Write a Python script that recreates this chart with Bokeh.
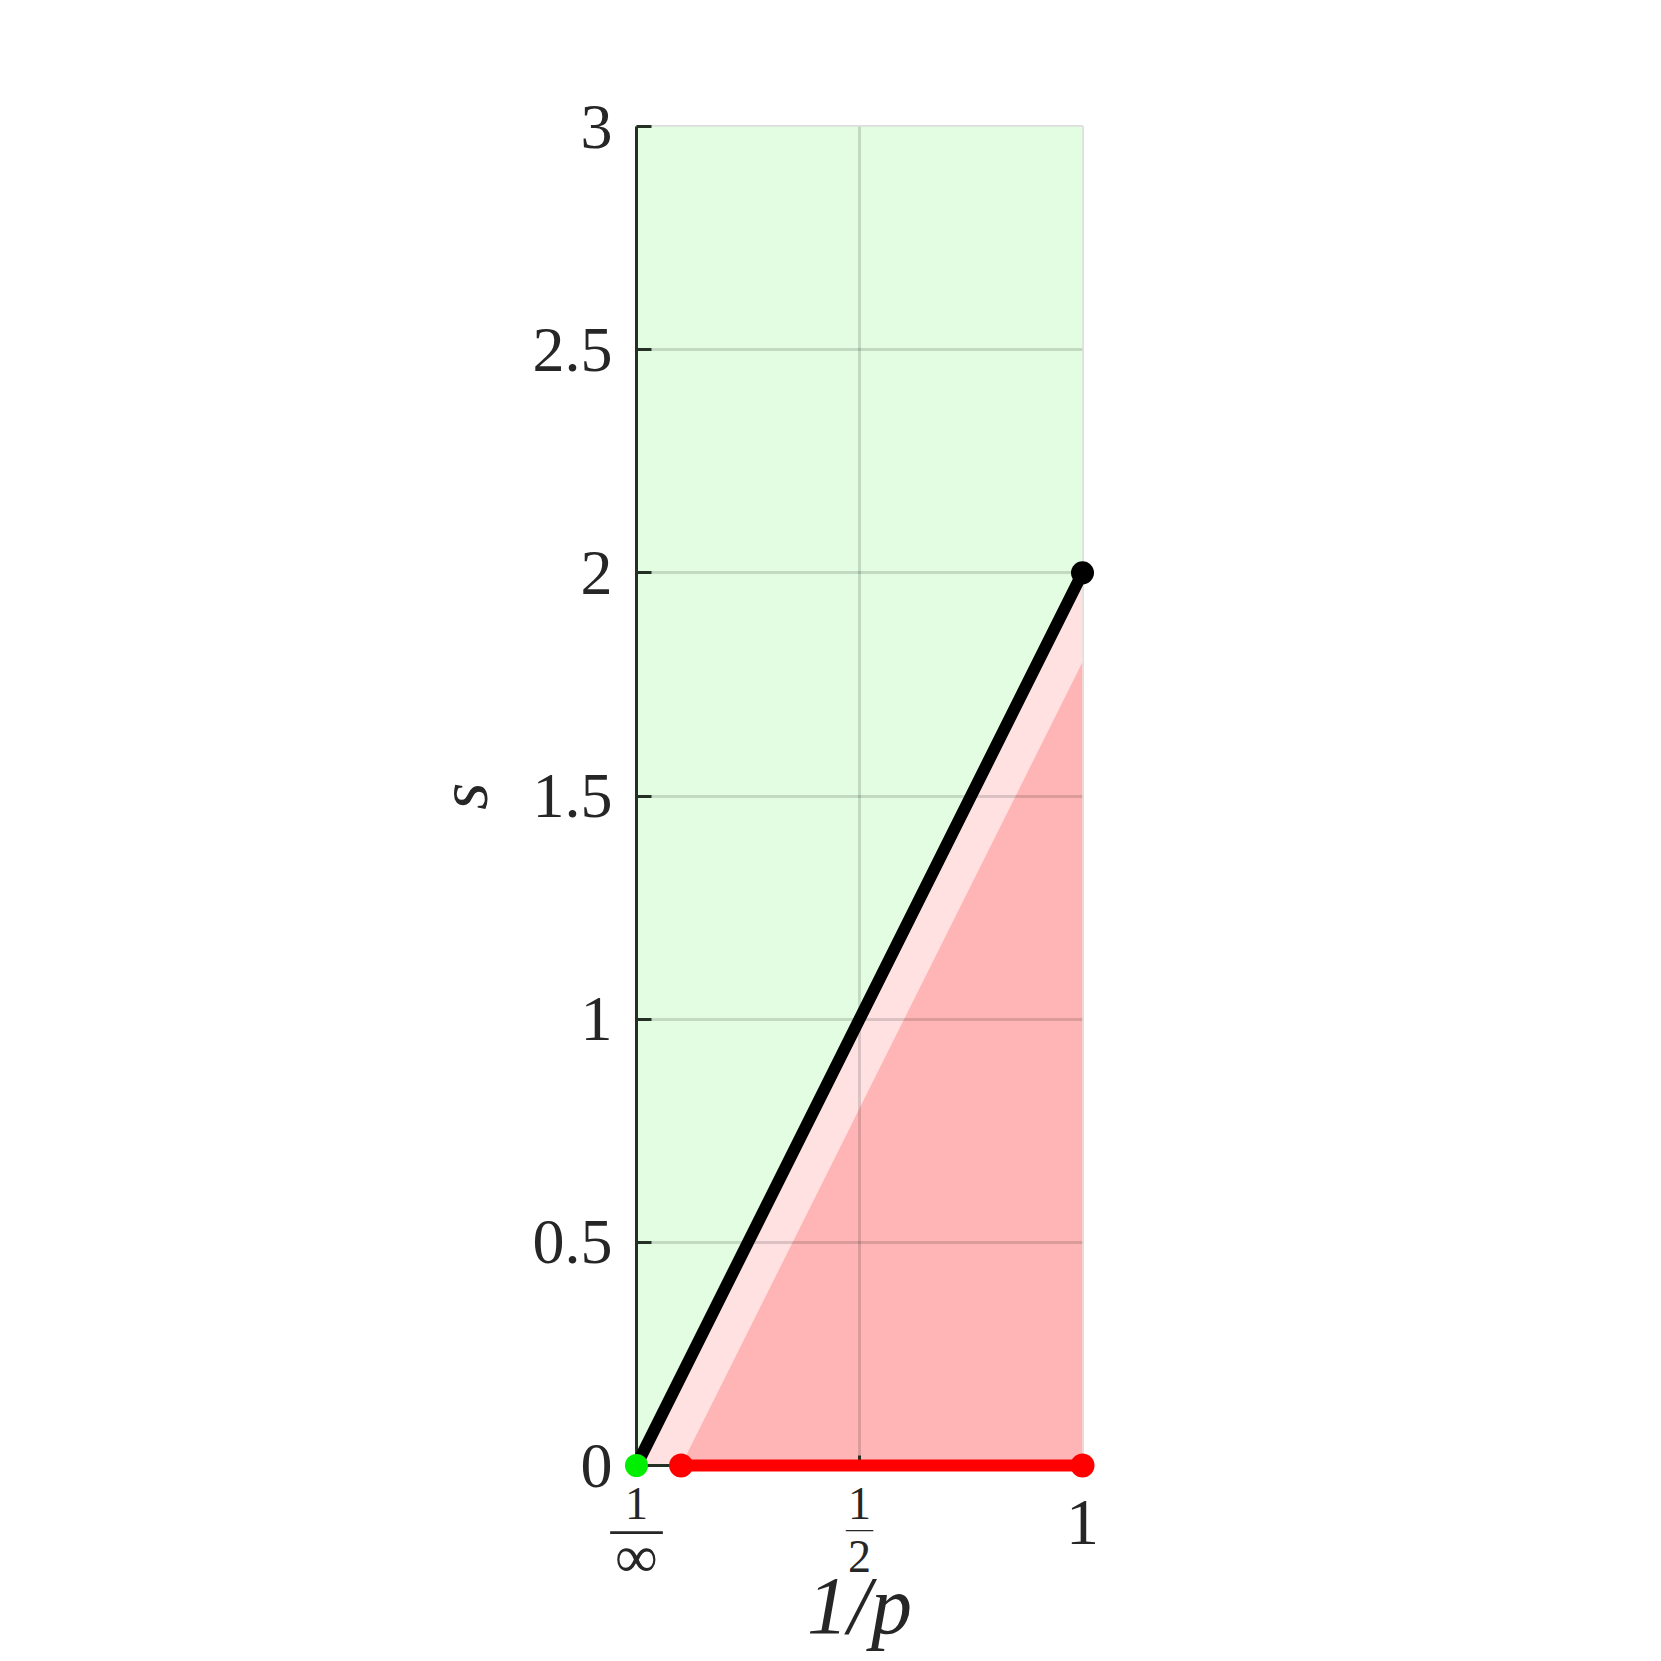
from bokeh.plotting import figure
from bokeh.models import FixedTicker, ColumnDataSource, Range1d
from bokeh.embed import file_html
from bokeh.resources import INLINE
from bokeh.core.properties import value

# ---- data ----
x_ticks = [0, 0.5, 1]
y_ticks = [0, 0.5, 1, 1.5, 2, 2.5, 3]
y_tick_labels = ["0", "0.5", "1", "1.5", "2", "2.5", "3"]

# fraction tick labels on the x axis
frac_x = [0, 0.5]
frac_num = ["1", "1"]
frac_den = ["\u221e", "2"]
frac_den_size = ["60px", "46px"]
frac_bar = ["\u2014", "\u2014"]
frac_bar_size = ["52px", "27px"]
plain_x = [1]
plain_lab = ["1"]

# regions
domain_x = [0, 1, 1, 0]
domain_s = [0, 0, 3, 3]
pink_x = [0, 1, 1]
pink_s = [0, 2, 0]
red_x = [0.1, 1, 1]
red_s = [0, 1.8, 0]

# lines
black_x = [0, 1]
black_s = [0, 2]
redline_x = [0.1, 1]
redline_s = [0, 0]

# points
green_pt_x = [0]
green_pt_s = [0]
red_pt_x = [0.1, 1]
red_pt_s = [0, 0]
black_pt_x = [1]
black_pt_s = [2]

FONT = "Liberation Serif"
TXT = "#262626"
AX = "#243024"

p = figure(
    frame_width=446, frame_height=1339,
    min_border_left=636, min_border_right=560,
    min_border_top=126, min_border_bottom=180,
    x_range=Range1d(0, 1), y_range=Range1d(0, 3),
    output_backend="svg", toolbar_location=None,
)
p.outline_line_color = "#000000"
p.outline_line_alpha = 0.13
p.outline_line_width = 3
p.background_fill_color = "white"
p.border_fill_color = "white"

# fills (below grid)
r = p.patch(domain_x, domain_s, fill_color="#e2fde2", line_color=None)
r.level = "image"
r = p.patch(pink_x, pink_s, fill_color="#ffe1e1", line_color=None)
r.level = "image"
r = p.patch(red_x, red_s, fill_color="#ffb5b5", line_color=None)
r.level = "image"

# grid
p.xgrid.ticker = FixedTicker(ticks=x_ticks)
p.ygrid.ticker = FixedTicker(ticks=y_ticks)
for g in (p.xgrid, p.ygrid):
    g.grid_line_color = "#000000"
    g.grid_line_alpha = 0.14
    g.grid_line_width = 3

# axes
xa = p.xaxis[0]
ya = p.yaxis[0]
xa.ticker = FixedTicker(ticks=x_ticks)
ya.ticker = FixedTicker(ticks=y_ticks)
for a in (xa, ya):
    a.axis_line_color = AX
    a.axis_line_width = 3
    a.major_tick_line_color = AX
    a.major_tick_line_width = 3
    a.major_tick_out = 0
    a.minor_tick_line_color = None
    a.major_label_text_font = FONT
    a.major_label_text_color = TXT
    a.axis_label_text_font = FONT
    a.axis_label_text_color = TXT
    a.axis_label_text_font_style = "italic"
ya.major_tick_in = 15
xa.major_tick_in = 10
ya.major_label_text_font_size = "64px"
ya.major_label_standoff = 24
ya.major_label_overrides = {t: l for t, l in zip(y_ticks, y_tick_labels)}
ya.axis_label = "s"
ya.axis_label_text_font_size = "70px"
ya.axis_label_standoff = 28
xa.major_label_overrides = {t: "" for t in x_ticks}
xa.major_label_text_font_size = "1px"
xa.axis_label = "1/p"
xa.axis_label_text_font_size = "82px"
xa.axis_label_standoff = 94

# x tick labels as fractions (text glyphs drawn outside the frame)
fsrc = ColumnDataSource(dict(x=frac_x, y=[0] * len(frac_x), num=frac_num, den=frac_den,
                             ds=frac_den_size, bar=frac_bar, bs=frac_bar_size))
psrc = ColumnDataSource(dict(x=plain_x, y=[0] * len(plain_x), t=plain_lab))
common = dict(text_align="center", text_baseline="middle",
              text_font=value(FONT), text_color=TXT)
for r in (
    p.text(x="x", y="y", text="num", source=fsrc, y_offset=38, text_font_size="46px", **common),
    p.text(x="x", y="y", text="den", source=fsrc, y_offset=91, text_font_size={"field": "ds"}, **common),
    p.text(x="x", y="y", text="bar", source=fsrc, y_offset=62, text_font_size={"field": "bs"}, **common),
    p.text(x="x", y="y", text="t", source=psrc, y_offset=57, text_font_size="66px", **common),
):
    r.level = "overlay"

# lines and points (unclipped)
r = p.line(black_x, black_s, line_color="black", line_width=12, line_cap="round")
r.level = "overlay"
r = p.line(redline_x, redline_s, line_color="#ff0000", line_width=12)
r.level = "overlay"
r = p.scatter(green_pt_x, green_pt_s, size=23, fill_color="#00ee00", line_color=None)
r.level = "overlay"
r = p.scatter(red_pt_x, red_pt_s, size=24, fill_color="#ff0000", line_color=None)
r.level = "overlay"
r = p.scatter(black_pt_x, black_pt_s, size=23, fill_color="black", line_color=None)
r.level = "overlay"

open("out.html", "w").write(file_html(p, INLINE))
